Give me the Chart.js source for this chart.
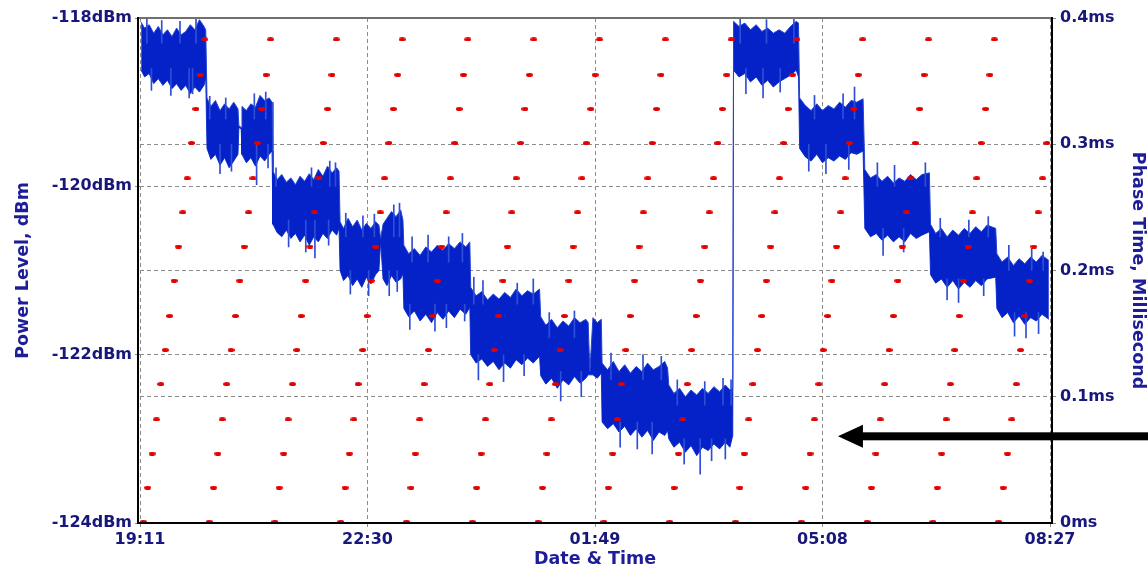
<!DOCTYPE html>
<html>
<head>
<meta charset="utf-8">
<title>Power Level / Phase Time</title>
<script src="https://cdn.jsdelivr.net/npm/chart.js@4.4.1/dist/chart.umd.min.js"></script>
<style>
  html, body { margin: 0; padding: 0; background: #fff; }
  #wrap { width: 1148px; height: 568px; }
</style>
</head>
<body>
<div id="wrap"><canvas id="grafico" width="1148" height="568"></canvas></div>
<script>
// x axis is minutes after 19:11
var timeTicks = [0, 199, 398, 597, 796];
var timeLabels = ['19:11', '22:30', '01:49', '05:08', '08:27'];
var powerTicks = [-124, -122, -120, -118];
var phaseTicks = [0, 0.1, 0.2, 0.3, 0.4];

// power level (dBm): upper and lower edge of the noisy trace
var bandTime = [
  1, 4, 8, 12, 16, 20, 24, 28, 32, 36, 40, 44, 48, 52, 56, 57.5,
  58.6, 62, 66, 70, 74, 78, 82, 85.7, 86.5, 88.5,
  89.2, 93, 97, 101, 105, 109, 113, 115.5,
  116.3, 120, 124, 128, 132, 136, 140, 144, 148, 152, 156, 160, 164, 168, 172, 174.1,
  175, 178, 182, 186, 190, 194, 198, 202, 206, 209, 210.5,
  212.6, 216, 220, 224, 228, 230,
  230.8, 235, 240, 245, 250, 255, 260, 265, 270, 275, 280, 285, 288.5,
  289.3, 294, 299, 304, 309, 314, 319, 324, 329, 334, 339, 344, 349.5,
  350.5, 355, 360, 365, 370, 375, 380, 385, 390, 392, 393.5,
  396.2, 400, 403.5,
  404.2, 409, 414, 419, 424, 429, 434, 439, 444, 449, 454, 459, 461.5,
  462.5, 467, 472, 477, 482, 487, 492, 497, 502, 507, 512, 516, 518.5,
  519.2, 524, 529, 534, 539, 544, 549, 554, 559, 564, 569, 574, 576,
  577, 582, 587, 592, 597, 602, 607, 612, 617, 622, 627, 632.5,
  634, 639, 644, 649, 654, 659, 664, 669, 674, 679, 684, 690.5,
  691.5, 696, 701, 706, 711, 716, 721, 726, 731, 736, 741, 748.5,
  749.5, 754, 759, 764, 769, 774, 779, 784, 789, 795
];
var bandHigh = [
  -118.05, -118.12, -118.08, -118.18, -118.10, -118.20, -118.14, -118.22, -118.12, -118.20, -118.16, -118.08, -118.14, -118.02, -118.10, -118.14,
  -118.95, -119.05, -118.98, -119.10, -119.02, -119.08, -119.00, -119.08, -119.28, -119.30,
  -119.05, -119.10, -119.02, -119.06, -118.92, -118.98, -118.95, -119.00,
  -119.82, -119.92, -119.86, -119.95, -119.90, -119.98, -119.88, -119.94, -119.85, -119.92, -119.80, -119.88, -119.76, -119.84, -119.78, -119.82,
  -120.42, -120.50, -120.38, -120.48, -120.40, -120.52, -120.44, -120.50, -120.42, -120.46, -120.62,
  -120.45, -120.38, -120.30, -120.36, -120.28, -120.40,
  -120.70, -120.80, -120.74, -120.82, -120.72, -120.78, -120.70, -120.76, -120.68, -120.74, -120.66, -120.72, -120.66,
  -121.20, -121.30, -121.25, -121.35, -121.28, -121.34, -121.26, -121.32, -121.22, -121.30, -121.24, -121.28, -121.22,
  -121.55, -121.65, -121.58, -121.68, -121.60, -121.66, -121.56, -121.62, -121.58, -121.62, -122.20,
  -121.56, -121.62, -121.58,
  -122.10, -122.18, -122.08, -122.20, -122.12, -122.22, -122.14, -122.20, -122.10, -122.18, -122.14, -122.08, -122.16,
  -122.36, -122.46, -122.40, -122.50, -122.42, -122.48, -122.40, -122.46, -122.38, -122.44, -122.36, -122.42, -122.40,
  -118.04, -118.10, -118.06, -118.14, -118.08, -118.16, -118.12, -118.18, -118.14, -118.18, -118.10, -118.04, -118.06,
  -118.95, -119.04, -119.10, -119.02, -119.10, -119.04, -119.08, -119.00, -119.06, -118.98, -119.00, -118.96,
  -119.80, -119.90, -119.86, -119.94, -119.88, -119.96, -119.90, -119.94, -119.86, -119.92, -119.86, -119.84,
  -120.45, -120.56, -120.50, -120.60, -120.52, -120.58, -120.50, -120.56, -120.48, -120.54, -120.46, -120.50,
  -120.80, -120.90, -120.84, -120.94, -120.86, -120.92, -120.84, -120.90, -120.82, -120.88
];
var bandLow = [
  -118.62, -118.70, -118.66, -118.78, -118.72, -118.80, -118.74, -118.84, -118.78, -118.86, -118.80, -118.90, -118.82, -118.88, -118.80, -118.72,
  -119.55, -119.68, -119.62, -119.75, -119.66, -119.78, -119.70, -119.62, -119.30, -119.32,
  -119.62, -119.72, -119.66, -119.76, -119.64, -119.70, -119.62, -119.58,
  -120.45, -120.55, -120.60, -120.52, -120.62, -120.56, -120.66, -120.58, -120.70, -120.60, -120.66, -120.56, -120.62, -120.52, -120.58, -120.50,
  -121.00, -121.12, -121.06, -121.18, -121.10, -121.20, -121.08, -121.16, -121.05, -121.00, -120.66,
  -121.10, -121.18, -121.06, -121.14, -121.10, -121.04,
  -121.45, -121.55, -121.48, -121.60, -121.52, -121.62, -121.50, -121.58, -121.48, -121.56, -121.46, -121.52, -121.44,
  -122.00, -122.10, -122.05, -122.14, -122.08, -122.18, -122.10, -122.16, -122.06, -122.12, -122.04, -122.10, -122.02,
  -122.25, -122.35, -122.28, -122.40, -122.30, -122.36, -122.26, -122.34, -122.28, -122.24, -122.24,
  -122.24, -122.28, -122.22,
  -122.80, -122.88, -122.82, -122.92, -122.85, -122.96, -122.88, -122.98, -122.90, -123.02, -122.92, -122.96, -122.90,
  -123.00, -123.10, -123.04, -123.16, -123.08, -123.20, -123.10, -123.14, -123.06, -123.12, -123.04, -123.10, -122.96,
  -118.62, -118.70, -118.66, -118.76, -118.70, -118.80, -118.74, -118.82, -118.76, -118.72, -118.68, -118.62, -118.70,
  -119.55, -119.65, -119.70, -119.62, -119.72, -119.66, -119.70, -119.64, -119.68, -119.60, -119.62, -119.58,
  -120.50, -120.60, -120.56, -120.64, -120.58, -120.66, -120.60, -120.66, -120.56, -120.62, -120.58, -120.54,
  -121.05, -121.15, -121.10, -121.20, -121.12, -121.22, -121.14, -121.20, -121.12, -121.18, -121.10, -121.08,
  -121.45, -121.56, -121.50, -121.62, -121.54, -121.64, -121.56, -121.60, -121.52, -121.58
];

// single noise needles sticking out of the trace (time, inner end, tip)
var spikeTime = [
  6, 19, 35, 49, 10, 27, 43, 46,
  61, 75, 70, 80,
  100, 110, 102, 112,
  119, 150, 166, 171, 130, 145, 153, 165,
  180, 195, 205, 184, 200,
  222, 227, 218, 225,
  238, 252, 270, 282, 236, 258, 268, 284,
  292, 300, 330, 344, 296, 318, 336,
  358, 380, 368, 386,
  412, 440, 456, 420, 435, 448,
  470, 494, 510, 517, 476, 490, 500, 512,
  525, 548, 572, 530, 545, 560,
  590, 615, 625, 585, 600, 620,
  645, 660, 687, 650, 668,
  700, 725, 742, 706, 716, 738,
  760, 780, 790, 765, 775, 786
];
var spikeBase = [
  -118.3, -118.3, -118.3, -118.3, -118.6, -118.6, -118.6, -118.6,
  -119.2, -119.2, -119.5, -119.5,
  -119.2, -119.2, -119.5, -119.5,
  -120.0, -120.0, -120.0, -120.0, -120.4, -120.4, -120.4, -120.4,
  -120.6, -120.6, -120.6, -121.0, -121.0,
  -120.6, -120.6, -121.0, -121.0,
  -120.9, -120.9, -120.9, -120.9, -121.4, -121.4, -121.4, -121.4,
  -121.4, -121.4, -121.4, -121.4, -122.0, -122.0, -122.0,
  -121.8, -121.8, -122.2, -122.2,
  -122.3, -122.3, -122.3, -122.8, -122.8, -122.8,
  -122.6, -122.6, -122.6, -122.6, -123.0, -123.0, -123.0, -123.0,
  -118.3, -118.3, -118.3, -118.6, -118.6, -118.6,
  -119.2, -119.2, -119.2, -119.5, -119.5, -119.5,
  -120.0, -120.0, -120.0, -120.5, -120.5,
  -120.6, -120.6, -120.6, -121.1, -121.1, -121.1,
  -121.0, -121.0, -121.0, -121.5, -121.5, -121.5
];
var spikeTip = [
  -118.0, -118.03, -118.04, -118.0, -118.86, -118.92, -118.95, -118.9,
  -118.93, -118.95, -119.85, -119.82,
  -118.9, -118.88, -119.98, -119.78,
  -119.78, -119.78, -119.7, -119.72, -120.72, -120.78, -120.85, -120.7,
  -120.32, -120.35, -120.33, -121.28, -121.3,
  -120.22, -120.2, -121.3, -121.25,
  -120.6, -120.58, -120.6, -120.56, -121.7, -121.72, -121.68, -121.6,
  -121.08, -121.12, -121.15, -121.1, -122.3, -122.32, -122.25,
  -121.5, -121.48, -122.55, -122.5,
  -121.98, -122.0, -122.02, -123.1, -123.12, -123.18,
  -122.3, -122.32, -122.28, -122.3, -123.3, -123.42, -123.26, -123.24,
  -118.0, -118.02, -118.0, -118.9, -118.95, -118.88,
  -118.92, -118.9, -118.82, -119.82, -119.85, -119.8,
  -119.72, -119.75, -119.72, -120.82, -120.78,
  -120.38, -120.4, -120.36, -121.35, -121.38, -121.3,
  -120.7, -120.74, -120.78, -121.78, -121.8, -121.75
];

// phase time samples (ms), wrapped
var phaseTime = [
  2.9, 6.7, 10.6, 14.4, 18.2, 22.1, 25.9, 29.8, 33.6, 37.4, 41.3, 45.1, 48.9, 52.8, 56.6,
  60.5, 64.3, 68.1, 72.0, 75.8, 79.6, 83.5, 87.3, 91.2, 95.0, 98.8, 102.7, 106.5, 110.3, 114.2,
  118.0, 121.8, 125.7, 129.5, 133.4, 137.2, 141.0, 144.9, 148.7, 152.5, 156.4, 160.2, 164.1, 167.9, 171.7,
  175.6, 179.4, 183.2, 187.1, 190.9, 194.8, 198.6, 202.4, 206.3, 210.1, 213.9, 217.8, 221.6, 225.4, 229.3,
  233.1, 237.0, 240.8, 244.6, 248.5, 252.3, 256.1, 260.0, 263.8, 267.7, 271.5, 275.3, 279.2, 283.0, 286.8,
  290.7, 294.5, 298.3, 302.2, 306.0, 309.9, 313.7, 317.5, 321.4, 325.2, 329.0, 332.9, 336.7, 340.6, 344.4,
  348.2, 352.1, 355.9, 359.7, 363.6, 367.4, 371.3, 375.1, 378.9, 382.8, 386.6, 390.4, 394.3, 398.1, 401.9,
  405.8, 409.6, 413.5, 417.3, 421.1, 425.0, 428.8, 432.6, 436.5, 440.3, 444.2, 448.0, 451.8, 455.7, 459.5,
  463.3, 467.2, 471.0, 474.8, 478.7, 482.5, 486.4, 490.2, 494.0, 497.9, 501.7, 505.5, 509.4, 513.2, 517.1,
  520.9, 524.7, 528.6, 532.4, 536.2, 540.1, 543.9, 547.8, 551.6, 555.4, 559.3, 563.1, 566.9, 570.8, 574.6,
  578.5, 582.3, 586.1, 590.0, 593.8, 597.6, 601.5, 605.3, 609.2, 613.0, 616.8, 620.7, 624.5, 628.3, 632.2,
  636.0, 639.8, 643.7, 647.5, 651.4, 655.2, 659.0, 662.9, 666.7, 670.5, 674.4, 678.2, 682.0, 685.9, 689.7,
  693.6, 697.4, 701.2, 705.1, 708.9, 712.7, 716.6, 720.4, 724.3, 728.1, 731.9, 735.8, 739.6, 743.4, 747.3,
  751.1, 755.0, 758.8, 762.6, 766.5, 770.3, 774.1, 778.0, 781.8, 785.6, 789.5, 793.3
];
var phaseMs = [
  0.001, 0.028, 0.055, 0.082, 0.110, 0.137, 0.164, 0.192, 0.219, 0.246, 0.273, 0.301, 0.328, 0.355, 0.383,
  0.001, 0.028, 0.055, 0.082, 0.110, 0.137, 0.164, 0.192, 0.219, 0.246, 0.273, 0.301, 0.328, 0.355, 0.383,
  0.001, 0.028, 0.055, 0.082, 0.110, 0.137, 0.164, 0.192, 0.219, 0.246, 0.273, 0.301, 0.328, 0.355, 0.383,
  0.001, 0.028, 0.055, 0.082, 0.110, 0.137, 0.164, 0.192, 0.219, 0.246, 0.273, 0.301, 0.328, 0.355, 0.383,
  0.001, 0.028, 0.055, 0.082, 0.110, 0.137, 0.164, 0.192, 0.219, 0.246, 0.273, 0.301, 0.328, 0.355, 0.383,
  0.001, 0.028, 0.055, 0.082, 0.110, 0.137, 0.164, 0.192, 0.219, 0.246, 0.273, 0.301, 0.328, 0.355, 0.383,
  0.001, 0.028, 0.055, 0.082, 0.110, 0.137, 0.164, 0.192, 0.219, 0.246, 0.273, 0.301, 0.328, 0.355, 0.383,
  0.001, 0.028, 0.055, 0.082, 0.110, 0.137, 0.164, 0.192, 0.219, 0.246, 0.273, 0.301, 0.328, 0.355, 0.383,
  0.001, 0.028, 0.055, 0.082, 0.110, 0.137, 0.164, 0.192, 0.219, 0.246, 0.273, 0.301, 0.328, 0.355, 0.383,
  0.001, 0.028, 0.055, 0.082, 0.110, 0.137, 0.164, 0.192, 0.219, 0.246, 0.273, 0.301, 0.328, 0.355, 0.383,
  0.001, 0.028, 0.055, 0.082, 0.110, 0.137, 0.164, 0.192, 0.219, 0.246, 0.273, 0.301, 0.328, 0.355, 0.383,
  0.001, 0.028, 0.055, 0.082, 0.110, 0.137, 0.164, 0.192, 0.219, 0.246, 0.273, 0.301, 0.328, 0.355, 0.383,
  0.001, 0.028, 0.055, 0.082, 0.110, 0.137, 0.164, 0.192, 0.219, 0.246, 0.273, 0.301, 0.328, 0.355, 0.383,
  0.001, 0.028, 0.055, 0.082, 0.110, 0.137, 0.164, 0.192, 0.219, 0.246, 0.273, 0.301
];

// arrow annotation (points at the end of the drop)
var arrowTime = 610.5;
var arrowLevel = -122.97;

var fuente = "'DejaVu Sans', Verdana, sans-serif";
var colorTick = '#17177c';
var colorTitulo = '#1d1d98';
var colorGrid = '#8c8c8c';

function juntar(xs, ys){
  var out = [];
  for (var i = 0; i < xs.length; i++) out.push({x: xs[i], y: ys[i]});
  return out;
}

function agujas(){
  var out = [];
  for (var i = 0; i < spikeTime.length; i++) out.push({x: spikeTime[i], y: [spikeBase[i], spikeTip[i]]});
  return out;
}

function puntoRojo(){
  var c = document.createElement('canvas');
  c.width = 7; c.height = 4;
  var g = c.getContext('2d');
  g.fillStyle = '#e30000';
  g.beginPath();
  g.ellipse(3.5, 2, 3.5, 2, 0, 0, Math.PI * 2);
  g.fill();
  return c;
}

function fijarTicks(lista){
  return function(scale){
    scale.ticks = lista.map(function(v){ return {value: v}; });
  };
}

var marco = {
  id: 'marco',
  afterDraw: function(chart){
    var a = chart.chartArea, ctx = chart.ctx;
    ctx.save();
    ctx.strokeStyle = '#707070';
    ctx.lineWidth = 2;
    ctx.beginPath();
    ctx.moveTo(a.left - 3, a.top);
    ctx.lineTo(a.right + 3, a.top);
    ctx.stroke();
    ctx.strokeStyle = '#000';
    ctx.beginPath();
    ctx.moveTo(a.left - 2, a.top - 1);
    ctx.lineTo(a.left - 2, a.bottom);
    ctx.lineTo(a.right + 2, a.bottom);
    ctx.lineTo(a.right + 2, a.top - 1);
    ctx.stroke();
    // flecha
    var px = chart.scales.x.getPixelForValue(arrowTime);
    var py = chart.scales.y.getPixelForValue(arrowLevel);
    ctx.fillStyle = '#000';
    ctx.fillRect(px + 22, py - 4, chart.width - px - 22, 8);
    ctx.beginPath();
    ctx.moveTo(px, py);
    ctx.lineTo(px + 25, py - 11.5);
    ctx.lineTo(px + 25, py + 11.5);
    ctx.closePath();
    ctx.fill();
    ctx.restore();
  }
};

var ctx = document.getElementById('grafico');
var myChart = new Chart(ctx, {
  type: 'line',
  data: {
    datasets: [{
      type: 'scatter',
      label: 'Phase Time',
      data: juntar(phaseTime, phaseMs),
      xAxisID: 'x',
      yAxisID: 'yr',
      pointStyle: puntoRojo(),
      pointRadius: 3,
      showLine: false,
      order: 0
    }, {
      type: 'bar',
      label: 'Power Level spikes',
      data: agujas(),
      xAxisID: 'x',
      yAxisID: 'y',
      backgroundColor: '#2f4ed6',
      borderWidth: 0,
      barThickness: 1,
      grouped: false,
      order: 1
    }, {
      label: 'Power Level',
      data: juntar(bandTime, bandHigh),
      xAxisID: 'x',
      yAxisID: 'y',
      borderColor: '#2443d2',
      borderWidth: 1,
      backgroundColor: '#0422c8',
      pointRadius: 0,
      fill: '+1',
      order: 2
    }, {
      label: 'Power Level low',
      data: juntar(bandTime, bandLow),
      xAxisID: 'x',
      yAxisID: 'y',
      borderColor: '#2443d2',
      borderWidth: 1,
      pointRadius: 0,
      fill: false,
      order: 3
    }]
  },
  options: {
    responsive: false,
    animation: false,
    layout: { padding: { top: 18, left: 0, right: 0, bottom: 0 } },
    plugins: {
      legend: { display: false },
      tooltip: { enabled: false }
    },
    scales: {
      x: {
        type: 'linear',
        position: 'bottom',
        min: 0,
        max: 796,
        offset: false,
        afterBuildTicks: fijarTicks(timeTicks),
        afterFit: function(s){ s.height = 45; },
        ticks: {
          autoSkip: false,
          maxRotation: 0,
          padding: 3,
          color: colorTick,
          font: { family: fuente, size: 16, weight: 'bold' },
          callback: function(v, i){ return timeLabels[i]; }
        },
        grid: { offset: false, color: colorGrid, tickColor: colorGrid, tickLength: 4, lineWidth: 1 },
        border: { display: false, dash: [4, 3] },
        title: {
          display: true,
          text: 'Date & Time',
          color: colorTitulo,
          font: { family: fuente, size: 17.5, weight: 'bold', lineHeight: 1 },
          padding: { top: 0, bottom: 0 }
        }
      },
      y: {
        position: 'left',
        min: -124,
        max: -118,
        afterBuildTicks: fijarTicks(powerTicks),
        afterFit: function(s){ s.width = 140; },
        ticks: {
          padding: 3,
          color: colorTick,
          font: { family: fuente, size: 16, weight: 'bold' },
          callback: function(v){ return v + 'dBm'; }
        },
        grid: {
          color: function(c){
            var v = c.tick ? c.tick.value : null;
            return (v === -120 || v === -122) ? colorGrid : 'rgba(0,0,0,0)';
          },
          tickColor: colorGrid,
          tickLength: 5,
          lineWidth: 1
        },
        border: { display: false, dash: [4, 3] },
        title: {
          display: true,
          text: 'Power Level, dBm',
          color: colorTitulo,
          font: { family: fuente, size: 17.5, weight: 'bold' },
          padding: { top: 13, bottom: 0 }
        }
      },
      yr: {
        position: 'right',
        min: 0,
        max: 0.4,
        afterBuildTicks: fijarTicks(phaseTicks),
        afterFit: function(s){ s.width = 98; },
        ticks: {
          padding: 4,
          color: colorTick,
          font: { family: fuente, size: 16, weight: 'bold' },
          callback: function(v){ return v === 0 ? '0ms' : v.toFixed(1) + 'ms'; }
        },
        grid: {
          color: function(c){
            var v = c.tick ? c.tick.value : null;
            return (v > 0.05 && v < 0.35) ? colorGrid : 'rgba(0,0,0,0)';
          },
          tickColor: colorGrid,
          tickLength: 6,
          lineWidth: 1
        },
        border: { display: false, dash: [4, 3] },
        title: {
          display: true,
          text: 'Phase Time, Millisecond',
          color: colorTitulo,
          font: { family: fuente, size: 17.5, weight: 'bold' },
          padding: { top: 0, bottom: 0 }
        }
      }
    }
  },
  plugins: [marco]
});
</script>
</body>
</html>
